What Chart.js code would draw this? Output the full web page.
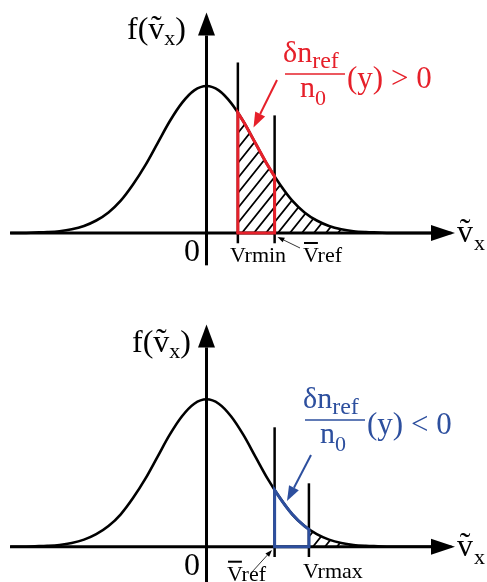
<!DOCTYPE html>
<html>
<head>
<meta charset="utf-8">
<script src="https://cdn.jsdelivr.net/npm/chart.js@4.4.1/dist/chart.umd.min.js"></script>
<style>
  html, body { margin: 0; padding: 0; background: #fff; }
  canvas { display: block; }
</style>
</head>
<body>
<canvas id="topChart" width="487" height="291"></canvas>
<canvas id="bottomChart" width="487" height="291"></canvas>
<script>
// velocity in thermal units, f normalised to its peak
const vx = [-4, -3.75, -3.5, -3.25, -3, -2.75, -2.5, -2.25, -2, -1.75, -1.5, -1.25, -1, -0.75, -0.5, -0.25,
            0, 0.25, 0.5, 0.75, 1, 1.25, 1.5, 1.75, 2, 2.25, 2.5, 2.75, 3, 3.25, 3.5, 3.75, 4, 4.25, 4.5, 4.75, 5];
const fv = [0, 0, 0.003, 0.006, 0.012, 0.025, 0.048, 0.085, 0.14, 0.22, 0.33, 0.46, 0.61, 0.76, 0.885, 0.97,
            1, 0.97, 0.885, 0.76, 0.61, 0.46, 0.33, 0.22, 0.14, 0.085, 0.048, 0.025, 0.012, 0.006, 0.003, 0, 0, 0, 0, 0, 0];

const vrmin = 0.64, vref = 1.39, vrmax = 2.09;
// marker lines: position and top end
const topMarkers = [vrmin, vref];
const topMarkerTops = [1.16, 0.80];
const bottomMarkers = [vref, vrmax];
const bottomMarkerTops = [0.81, 0.43];
const markerBottom = -0.07;

const RED = '#e6202a';
const BLUE = '#2d4f9e';
const SERIF = '"Liberation Serif", "Times New Roman", serif';

function curvePath(ctx, pts) {
    ctx.moveTo(pts[0].x, pts[0].y);
    for (let i = 1; i < pts.length; i++) {
        const a = pts[i - 1], b = pts[i];
        if (a.cp2x !== undefined && b.cp1x !== undefined) {
            ctx.bezierCurveTo(a.cp2x, a.cp2y, b.cp1x, b.cp1y, b.x, b.y);
        } else {
            ctx.lineTo(b.x, b.y);
        }
    }
}

function underCurve(ctx, pts, y0) {
    ctx.beginPath();
    curvePath(ctx, pts);
    ctx.lineTo(pts[pts.length - 1].x, y0);
    ctx.lineTo(pts[0].x, y0);
    ctx.closePath();
}

function hatch(ctx, pts, xStart, y0) {
    ctx.save();
    underCurve(ctx, pts, y0);
    ctx.clip();
    ctx.beginPath();
    ctx.rect(xStart, 0, 1000, y0);
    ctx.clip();
    ctx.strokeStyle = '#000';
    ctx.lineWidth = 1.8;
    ctx.beginPath();
    const h = 200, slope = 1.25;
    for (let x = xStart - 200; x < xStart + 300; x += 12) {
        ctx.moveTo(x, y0);
        ctx.lineTo(x + h / slope, y0 - h);
    }
    ctx.stroke();
    ctx.restore();
}

function outline(ctx, pts, xa, xb, y0, color) {
    ctx.save();
    underCurve(ctx, pts, y0);
    ctx.clip();
    ctx.strokeStyle = color;
    ctx.lineWidth = 3;
    ctx.beginPath();
    ctx.moveTo(xa, y0); ctx.lineTo(xa, 0);
    ctx.moveTo(xb, y0); ctx.lineTo(xb, 0);
    ctx.stroke();
    ctx.restore();

    ctx.save();
    ctx.beginPath();
    ctx.rect(xa - 1.5, 0, xb - xa + 3, y0);
    ctx.clip();
    ctx.strokeStyle = color;
    ctx.lineWidth = 3;
    ctx.beginPath();
    curvePath(ctx, pts);
    ctx.stroke();
    ctx.restore();

    ctx.strokeStyle = color;
    ctx.lineWidth = 3;
    ctx.beginPath();
    ctx.moveTo(xa - 1.5, y0);
    ctx.lineTo(xb + 1.5, y0);
    ctx.stroke();
}

function arrow(ctx, x1, y1, x2, y2, color, lw, headLen, headW) {
    const ang = Math.atan2(y2 - y1, x2 - x1);
    const bx = x2 - headLen * Math.cos(ang), by = y2 - headLen * Math.sin(ang);
    ctx.strokeStyle = color;
    ctx.lineWidth = lw;
    ctx.beginPath();
    ctx.moveTo(x1, y1);
    ctx.lineTo(bx, by);
    ctx.stroke();
    ctx.fillStyle = color;
    ctx.beginPath();
    ctx.moveTo(x2, y2);
    ctx.lineTo(bx + headW / 2 * Math.sin(ang), by - headW / 2 * Math.cos(ang));
    ctx.lineTo(bx - headW / 2 * Math.sin(ang), by + headW / 2 * Math.cos(ang));
    ctx.closePath();
    ctx.fill();
}

// draws consecutive pieces [text, size, dy]
function run(ctx, x, y, parts, color) {
    ctx.fillStyle = color || '#000';
    ctx.textAlign = 'left';
    ctx.textBaseline = 'alphabetic';
    for (const [t, size, dy] of parts) {
        ctx.font = size + 'px ' + SERIF;
        ctx.fillText(t, x, y + (dy || 0));
        x += ctx.measureText(t).width;
    }
    return x;
}

function tildeV(ctx, x, y, size) {
    ctx.font = size + 'px ' + SERIF;
    const w = ctx.measureText('v').width;
    ctx.fillText('v', x, y);
    ctx.textAlign = 'center';
    ctx.fillText('\u02DC', x + w / 2, y - 2);
    ctx.textAlign = 'left';
    return x + w;
}

function fLabel(ctx, x, y) {
    x = run(ctx, x, y, [['f(', 32]]);
    x = tildeV(ctx, x, y, 32);
    x = run(ctx, x, y, [['x', 22, 6], [')', 32]]);
}

function vxLabel(ctx, x, y) {
    ctx.fillStyle = '#000';
    x = tildeV(ctx, x, y, 32);
    run(ctx, x + 1, y, [['x', 22, 8]]);
}

function fraction(ctx, bx, by, rel, color) {
    run(ctx, bx - 2, by - 12, [['\u03B4n', 30], ['ref', 24, 6]], color);
    ctx.strokeStyle = color;
    ctx.lineWidth = 1.6;
    ctx.beginPath();
    ctx.moveTo(bx, by);
    ctx.lineTo(bx + 60, by);
    ctx.stroke();
    run(ctx, bx + 15, by + 23, [['n', 30], ['0', 22, 8]], color);
    run(ctx, bx + 62, by + 14, [['(y) ' + rel + ' 0', 31]], color);
}

function overV(ctx, x, y, rest) {
    ctx.font = '22px ' + SERIF;
    const w = ctx.measureText('V').width;
    ctx.fillStyle = '#000';
    ctx.fillRect(x + 1, y - 20, w - 2, 2);
    run(ctx, x, y, [['V' + rest, 22]]);
}

function axes(ctx, o, yBottom, yTip) {
    // x axis
    arrow(ctx, 10, o.y, 455, o.y, '#000', 3, 24, 16);
    // y axis
    arrow(ctx, o.x, yBottom, o.x, yTip, '#000', 3, 23, 17);
}

function makeChart(id, yMin, yMax, markers, markerTops, draw) {
    const datasets = [{
        data: vx.map((x, i) => ({ x: x, y: fv[i] })),
        showLine: true,
        borderColor: '#000',
        borderWidth: 2.6,
        pointRadius: 0,
        cubicInterpolationMode: 'monotone',
        fill: false
    }];
    markers.forEach(function(m, i) {
        datasets.push({
            data: [{ x: m, y: markerBottom }, { x: m, y: markerTops[i] }],
            showLine: true,
            borderColor: '#000',
            borderWidth: 2.5,
            pointRadius: 0
        });
    });
    return new Chart(document.getElementById(id), {
        type: 'scatter',
        data: { datasets: datasets },
        options: {
            responsive: false,
            animation: false,
            events: [],
            layout: { padding: 0 },
            plugins: { legend: { display: false }, tooltip: { enabled: false } },
            scales: {
                x: { type: 'linear', min: -4.214, max: 5.724, display: false },
                y: { type: 'linear', min: yMin, max: yMax, display: false }
            }
        },
        plugins: [{
            id: 'sketch',
            afterDatasetsDraw: function(chart) {
                const ctx = chart.ctx;
                const xs = chart.scales.x, ys = chart.scales.y;
                const pts = chart.getDatasetMeta(0).data;
                const o = { x: xs.getPixelForValue(0), y: ys.getPixelForValue(0) };
                ctx.save();
                draw(ctx, pts, o, xs, ys);
                ctx.restore();
            }
        }]
    });
}

// upper panel: δn_ref > 0
makeChart('topChart', -0.3946, 1.585, topMarkers, topMarkerTops, function(ctx, pts, o, xs, ys) {
    const xa = xs.getPixelForValue(vrmin), xb = xs.getPixelForValue(vref);
    hatch(ctx, pts, xa, o.y);
    axes(ctx, o, ys.getPixelForValue(-0.22), ys.getPixelForValue(1.50));
    outline(ctx, pts, xa, xb, o.y, RED);
    arrow(ctx, o.x + 70.5, o.y - 153, o.x + 47, o.y - 105.5, RED, 2, 15, 11);
    fLabel(ctx, o.x - 79.5, o.y - 194);
    fraction(ctx, o.x + 78.5, o.y - 159, '>', RED);
    vxLabel(ctx, o.x + 250.5, o.y + 9);
    ctx.textAlign = 'right';
    ctx.font = '32px ' + SERIF;
    ctx.fillStyle = '#000';
    ctx.fillText('0', o.x - 6.5, o.y + 28);
    run(ctx, o.x + 23.5, o.y + 29, [['Vrmin', 22]]);
    overV(ctx, o.x + 96.5, o.y + 29, 'ref');
    arrow(ctx, o.x + 93.5, o.y + 15, o.x + 71, o.y + 4, '#000', 0.8, 7, 5);
});

// lower panel: δn_ref < 0
makeChart('bottomChart', -0.2395, 1.7347, bottomMarkers, bottomMarkerTops, function(ctx, pts, o, xs, ys) {
    const xa = xs.getPixelForValue(vref), xb = xs.getPixelForValue(vrmax);
    hatch(ctx, pts, xb, o.y);
    axes(ctx, o, ys.getPixelForValue(-0.2395), ys.getPixelForValue(1.508));
    outline(ctx, pts, xa, xb, o.y, BLUE);
    arrow(ctx, o.x + 104.5, o.y - 91.7, o.x + 80.5, o.y - 45.7, BLUE, 2, 15, 11);
    fLabel(ctx, o.x - 74.5, o.y - 194.7);
    fraction(ctx, o.x + 98.5, o.y - 126.7, '<', BLUE);
    vxLabel(ctx, o.x + 250.5, o.y + 9);
    ctx.textAlign = 'right';
    ctx.font = '32px ' + SERIF;
    ctx.fillStyle = '#000';
    ctx.fillText('0', o.x - 6.5, o.y + 28.3);
    overV(ctx, o.x + 20.5, o.y + 34, 'ref');
    run(ctx, o.x + 96.5, o.y + 31, [['Vrmax', 22]]);
    arrow(ctx, o.x + 45.5, o.y + 25.3, o.x + 65.5, o.y + 3.3, '#000', 0.8, 7, 5);
});
</script>
</body>
</html>
